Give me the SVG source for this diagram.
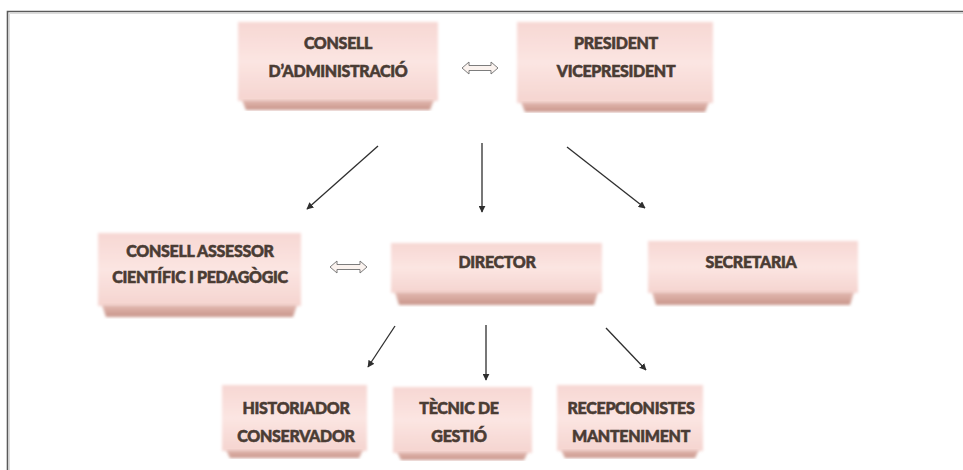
<svg xmlns="http://www.w3.org/2000/svg" width="963" height="470" viewBox="0 0 963 470">
<defs>
<linearGradient id="face" x1="0" y1="0" x2="0" y2="1">
<stop offset="0" stop-color="#f7d7d3"/>
<stop offset="0.5" stop-color="#fbe5e2"/>
<stop offset="1" stop-color="#f5d4cf"/>
</linearGradient>
<linearGradient id="edge" x1="0" y1="0" x2="0" y2="1">
<stop offset="0" stop-color="#e4bab2"/>
<stop offset="1" stop-color="#c8958a"/>
</linearGradient>
<filter id="soft" x="-5%" y="-10%" width="110%" height="120%">
<feGaussianBlur stdDeviation="1.6"/>
</filter>
<marker id="ah" viewBox="0 0 10 10" refX="9" refY="5" markerWidth="7" markerHeight="7" markerUnits="userSpaceOnUse" orient="auto">
<path d="M0,0 L10,5 L0,10 Z" fill="#2e2e2e"/>
</marker>
</defs>
<style>
.face{fill:url(#face);filter:url(#soft)}
.edge{fill:url(#edge);filter:url(#soft)}
.lbl{font-family:Lato,"Open Sans","Liberation Sans",sans-serif;font-weight:900;font-size:16px;fill:#4a3c34;stroke:#4a3c34;stroke-width:0.55px;text-anchor:middle;letter-spacing:-0.3px}
.conn{stroke:#2e2e2e;stroke-width:1.3;fill:none;marker-end:url(#ah)}
.dbl{fill:#fbf3ef;stroke:#6e6e6e;stroke-width:0.9}
</style>
<rect width="963" height="470" fill="#ffffff"/>
<path d="M7.5,470 L7.5,11.5 L963,11.5" fill="none" stroke="#5a5a5a" stroke-width="1.6"/>
<path d="M9.5,470 L9.5,13.5 L963,13.5" fill="none" stroke="#dcdcdc" stroke-width="1"/>

<g id="consell-administracio">
<rect class="face" x="238" y="22" width="200" height="79"/>
<path class="edge" d="M242,100 L434,100 L430,110 L246,110 Z"/>
<text class="lbl" x="338" y="49">CONSELL</text>
<text class="lbl" x="338" y="77">D’ADMINISTRACIÓ</text>
</g>
<g id="president">
<rect class="face" x="517" y="22" width="196" height="81"/>
<path class="edge" d="M521,102 L709,102 L705,112 L525,112 Z"/>
<text class="lbl" x="616" y="49">PRESIDENT</text>
<text class="lbl" x="616" y="77">VICEPRESIDENT</text>
</g>
<g id="consell-assessor">
<rect class="face" x="98" y="233" width="203" height="73"/>
<path class="edge" d="M102,305 L297,305 L293,317 L106,317 Z"/>
<text class="lbl" x="200" y="257">CONSELL ASSESSOR</text>
<text class="lbl" x="200" y="283">CIENTÍFIC I PEDAGÒGIC</text>
</g>
<g id="director">
<rect class="face" x="391" y="243" width="211" height="50"/>
<path class="edge" d="M395,292 L598,292 L594,305 L399,305 Z"/>
<text class="lbl" x="497" y="268">DIRECTOR</text>
</g>
<g id="secretaria">
<rect class="face" x="648" y="241" width="210" height="52"/>
<path class="edge" d="M652,292 L854,292 L850,305 L656,305 Z"/>
<text class="lbl" x="751" y="268">SECRETARIA</text>
</g>
<g id="historiador">
<rect class="face" x="222" y="385" width="145" height="66"/>
<path class="edge" d="M226,450 L363,450 L359,458 L230,458 Z"/>
<text class="lbl" x="296" y="414">HISTORIADOR</text>
<text class="lbl" x="296" y="442">CONSERVADOR</text>
</g>
<g id="tecnic">
<rect class="face" x="393" y="387" width="139" height="66"/>
<path class="edge" d="M397,452 L528,452 L524,460 L401,460 Z"/>
<text class="lbl" x="459" y="414">TÈCNIC DE</text>
<text class="lbl" x="459" y="442">GESTIÓ</text>
</g>
<g id="recepcionistes">
<rect class="face" x="557" y="385" width="146" height="66"/>
<path class="edge" d="M561,450 L699,450 L695,458 L565,458 Z"/>
<text class="lbl" x="631" y="414">RECEPCIONISTES</text>
<text class="lbl" x="631" y="442">MANTENIMENT</text>
</g>

<g id="connectors">
<line class="conn" x1="378" y1="146" x2="307" y2="209"/>
<line class="conn" x1="482" y1="143" x2="482" y2="212"/>
<line class="conn" x1="567" y1="147" x2="645" y2="208"/>
<line class="conn" x1="395" y1="326" x2="368" y2="367"/>
<line class="conn" x1="486" y1="325" x2="486" y2="380"/>
<line class="conn" x1="606" y1="328" x2="646" y2="370"/>
<path class="dbl" d="M462,68 L469,62 L469,65.5 L491,65.5 L491,62 L498,68 L491,74 L491,70.5 L469,70.5 L469,74 Z"/>
<path class="dbl" d="M330,267 L337,261 L337,264.5 L360,264.5 L360,261 L367,267 L360,273 L360,269.5 L337,269.5 L337,273 Z"/>
</g>
</svg>
